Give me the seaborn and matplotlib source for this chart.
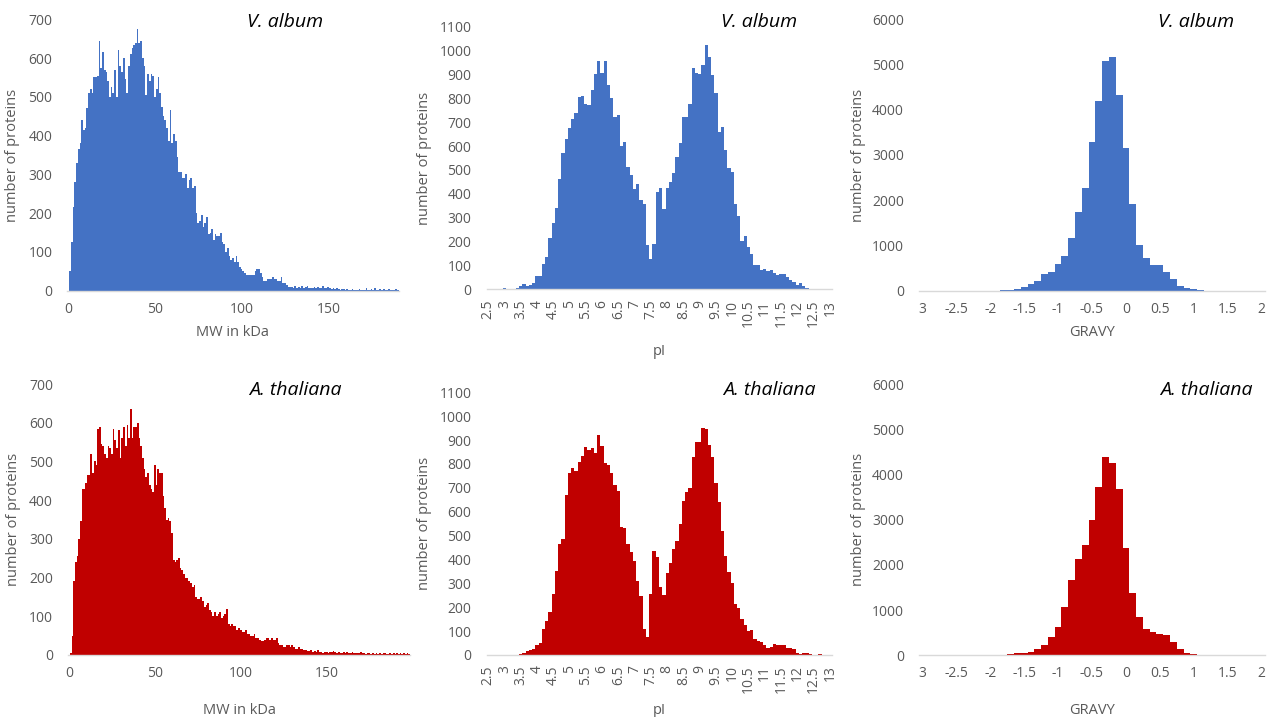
import numpy as np
import pandas as pd
import seaborn as sns
import matplotlib.pyplot as plt

# ---------------- data ----------------
species = ["V. album", "A. thaliana"]
colors = ["#4472C4", "#C00000"]

# MW histogram, 1 kDa bins (bin centres 1, 2, 3, ...)
mw_valbum = [50, 125, 215, 280, 330, 365, 380, 440, 415, 420,
             470, 510, 520, 510, 550, 550, 555, 645, 575, 615,
             570, 565, 540, 500, 525, 510, 570, 500, 620, 580,
             565, 600, 545, 510, 580, 610, 625, 635, 640, 675,
             640, 645, 600, 580, 505, 560, 540, 560, 555, 500,
             520, 550, 510, 475, 450, 440, 420, 385, 465, 380,
             405, 385, 345, 305, 305, 290, 290, 300, 265, 285,
             290, 265, 270, 200, 175, 180, 195, 165, 175, 190,
             145, 150, 160, 130, 145, 140, 140, 150, 125, 120,
             100, 110, 90, 80, 85, 75, 90, 75, 60, 55,
             50, 45, 40, 40, 40, 40, 40, 50, 55, 55,
             45, 35, 25, 25, 30, 30, 30, 35, 30, 30,
             25, 25, 35, 20, 20, 15, 10, 10, 10, 8,
             12, 8, 10, 7, 12, 6, 9, 11, 7, 8,
             6, 9, 7, 10, 6, 8, 12, 6, 7, 9,
             8, 5, 6, 4, 7, 5, 3, 4, 5, 3,
             4, 2, 3, 5, 2, 3, 2, 4, 3, 2,
             3, 6, 2, 3, 5, 2, 7, 3, 2, 4,
             2, 5, 3, 2, 4, 2, 3, 2, 4, 3]
mw_athal = [5, 50, 190, 240, 255, 300, 345, 430, 430, 445,
            465, 465, 520, 470, 500, 490, 585, 590, 545, 540,
            520, 510, 540, 535, 520, 585, 555, 535, 580, 510,
            560, 590, 540, 595, 560, 635, 560, 590, 590, 600,
            560, 540, 510, 480, 460, 470, 440, 430, 420, 490,
            440, 480, 470, 470, 410, 380, 350, 355, 345, 315,
            245, 240, 245, 250, 225, 220, 210, 200, 200, 190,
            185, 175, 180, 150, 145, 145, 150, 140, 125, 130,
            135, 115, 110, 100, 110, 100, 105, 110, 95, 100,
            105, 120, 80, 75, 80, 75, 75, 65, 70, 65,
            60, 60, 65, 55, 55, 50, 50, 55, 45, 45,
            40, 35, 35, 40, 45, 45, 40, 45, 40, 40,
            45, 30, 25, 25, 20, 20, 25, 25, 20, 25,
            20, 15, 15, 20, 15, 15,
            12, 14, 10, 11, 12, 9, 10, 8, 14, 9,
            8, 6, 7, 9, 6, 7, 8, 10, 7, 6,
            8, 5, 6, 9, 5, 7, 6, 5, 8, 5,
            4, 6, 5, 7, 4, 5, 3, 6, 4, 3,
            5, 3, 4, 2, 5, 3, 4, 6, 3, 2,
            4, 3, 5, 2, 6, 3, 4, 2, 5, 3, 4, 3]

# pI histogram, 0.1 bins, centres 2.5 ... 13.0
pi_valbum = [0, 0, 0, 0, 0, 5, 2, 0, 2, 5,
             15, 22, 15, 20, 28, 54, 55, 106, 137, 215,
             279, 339, 464, 573, 631, 675, 715, 740, 804, 810,
             775, 770, 834, 901, 957, 905, 955, 857, 802, 722,
             732, 600, 619, 511, 480, 419, 441, 374, 358, 186,
             128, 191, 408, 423, 338, 425, 451, 487, 556, 612,
             721, 722, 776, 926, 905, 902, 940, 1024, 972, 899,
             821, 659, 679, 582, 508, 490, 358, 307, 204, 223,
             179, 148, 100, 100, 81, 85, 75, 80, 70, 60,
             62, 65, 50, 40, 30, 20, 25, 15, 5, 0,
             0, 0, 0, 0, 0, 0]
pi_athal = [0, 0, 0, 0, 0, 0, 0, 0, 0, 0,
            5, 10, 15, 20, 25, 40, 50, 110, 142, 180,
            254, 350, 465, 487, 670, 760, 782, 770, 808, 835,
            869, 860, 865, 844, 920, 876, 802, 795, 760, 710,
            686, 534, 530, 465, 430, 393, 310, 247, 108, 77,
            256, 436, 412, 284, 251, 342, 384, 444, 478, 550,
            645, 682, 701, 828, 891, 890, 950, 945, 878, 830,
            721, 640, 521, 413, 348, 303, 215, 195, 152, 125,
            100, 105, 65, 60, 55, 40, 30, 35, 45, 40,
            40, 40, 30, 30, 25, 10, 5, 8, 8, 5,
            0, 2, 6, 0, 0, 0]

# GRAVY histogram, 0.1 bins, centres -3.0 ... 2.0
gravy_valbum = [0, 0, 0, 0, 0, 0, 0, 0, 0, 0,
                0, 3, 10, 20, 40, 74, 147, 214, 368, 420,
                582, 774, 1157, 1746, 2270, 3280, 4200, 5077, 5173, 4325,
                3161, 1916, 1017, 715, 560, 560, 413, 250, 110, 60,
                30, 10, 3, 0, 0, 0, 0, 0, 0, 0, 0]
gravy_athal = [0, 0, 0, 0, 0, 0, 0, 0, 0, 0,
               0, 3, 10, 20, 40, 60, 80, 147, 221, 413,
               619, 1061, 1658, 2122, 2432, 2985, 3729, 4385, 4259, 3670,
               2373, 1371, 847, 575, 508, 472, 455, 287, 133, 60,
               30, 15, 10, 5, 8, 0, 0, 0, 0, 0, 0]

mw_ticks = [0, 50, 100, 150]
mw_ticklabels = ["0", "50", "100", "150"]
pi_ticks = [2.5, 3, 3.5, 4, 4.5, 5, 5.5, 6, 6.5, 7, 7.5, 8, 8.5, 9, 9.5,
            10, 10.5, 11, 11.5, 12, 12.5, 13]
pi_ticklabels = ["2.5", "3", "3.5", "4", "4.5", "5", "5.5", "6", "6.5", "7", "7.5",
                 "8", "8.5", "9", "9.5", "10", "10.5", "11", "11.5", "12", "12.5", "13"]
gravy_ticks = [-3, -2.5, -2, -1.5, -1, -0.5, 0, 0.5, 1, 1.5, 2]
gravy_ticklabels = ["3", "-2.5", "-2", "-1.5", "-1", "-0.5", "0", "0.5", "1", "1.5", "2"]

# ---------------- figure ----------------
sns.set_theme(style="white")
plt.rcParams["font.family"] = ["Open Sans", "DejaVu Sans"]

W, H = 1271, 717
fig = plt.figure(figsize=(W / 100, H / 100), dpi=100)
GRAY = "#595959"


def make_axes(l, r, t, b):
    return fig.add_axes([l / W, 1 - b / H, (r - l) / W, (b - t) / H])


def panel(box, counts, start, step, xlim, ylim, yticks, xticks, xticklabels,
          xlabel, color, title, title_xy, ylabel_x, xlabel_y, rot=0):
    l, r, t, b = box
    ax = make_axes(l, r, t, b)
    counts = [float(c) for c in counts]
    n = len(counts)
    centers = [round(start + step * i, 4) for i in range(n)]
    edges = [round(start - step / 2 + step * i, 4) for i in range(n + 1)]
    df = pd.DataFrame({"x": centers, "n": counts})
    sns.histplot(data=df, x="x", weights="n", bins=edges, element="step",
                 fill=True, color=color, alpha=1, linewidth=0, ax=ax)
    ax.set_xlim(*xlim)
    ax.set_ylim(*ylim)
    ax.set_yticks(yticks)
    ax.set_yticklabels([str(v) for v in yticks])
    ax.set_xticks(xticks)
    if rot:
        ax.set_xticklabels(xticklabels, rotation=90, ha="center", va="top")
    else:
        ax.set_xticklabels(xticklabels)
    ax.tick_params(axis="both", length=0, labelsize=10, labelcolor=GRAY)
    ax.tick_params(axis="y", pad=10.8)
    ax.tick_params(axis="x", pad=7.5 if rot else 7.8)
    for s in ["top", "right", "left"]:
        ax.spines[s].set_visible(False)
    ax.spines["bottom"].set_color("#D9D9D9")
    ax.spines["bottom"].set_linewidth(1.0)
    ax.grid(False)
    ax.set_ylabel("number of proteins", fontsize=10.5, color=GRAY)
    ax.yaxis.label.set_va("center")
    ax.yaxis.set_label_coords((ylabel_x - l) / (r - l), 0.5)
    ax.set_xlabel(xlabel, fontsize=10.5, color=GRAY)
    ax.xaxis.label.set_va("center")
    ax.xaxis.set_label_coords(0.5, -(xlabel_y - b) / (b - t))
    fig.text(title_xy[0] / W, 1 - title_xy[1] / H, title, fontsize=14,
             style="italic", color="black", ha="center", va="center")
    return ax


rows = [
    dict(mw=mw_valbum, pi=pi_valbum, gr=gravy_valbum, color=colors[0], title=species[0],
         mwbox=(67.4, 398.5, 19.3, 290.7), pibox=(486.5, 831.5, 26.7, 289.3),
         grbox=(919, 1265, 19.3, 290.7),
         t_mw=(285, 22), t_pi=(759, 22), t_gr=(1196, 22),
         xl_mw=333, xl_pi=352, xl_gr=333, mwmax=190.5),
    dict(mw=mw_athal, pi=pi_athal, gr=gravy_athal, color=colors[1], title=species[1],
         mwbox=(68.1, 410, 384, 655), pibox=(486.5, 831.5, 392.3, 655),
         grbox=(919, 1265, 384, 655.3),
         t_mw=(295, 390), t_pi=(769, 390), t_gr=(1206, 390),
         xl_mw=710, xl_pi=711, xl_gr=710, mwmax=198.5),
]

for row in rows:
    panel(row["mwbox"], row["mw"], 1, 1, (-0.5, row["mwmax"]), (0, 700),
          list(range(0, 701, 100)), mw_ticks, mw_ticklabels, "MW in kDa",
          row["color"], row["title"], row["t_mw"], 13, row["xl_mw"])
    panel(row["pibox"], row["pi"], 2.5, 0.1, (2.45, 13.05), (0, 1100),
          list(range(0, 1101, 100)), pi_ticks, pi_ticklabels, "pI",
          row["color"], row["title"], row["t_pi"], 425, row["xl_pi"], rot=90)
    panel(row["grbox"], row["gr"], -3.0, 0.1, (-3.05, 2.05), (0, 6000),
          list(range(0, 6001, 1000)), gravy_ticks, gravy_ticklabels, "GRAVY",
          row["color"], row["title"], row["t_gr"], 858, row["xl_gr"])

fig.savefig("out.png", dpi=100)
